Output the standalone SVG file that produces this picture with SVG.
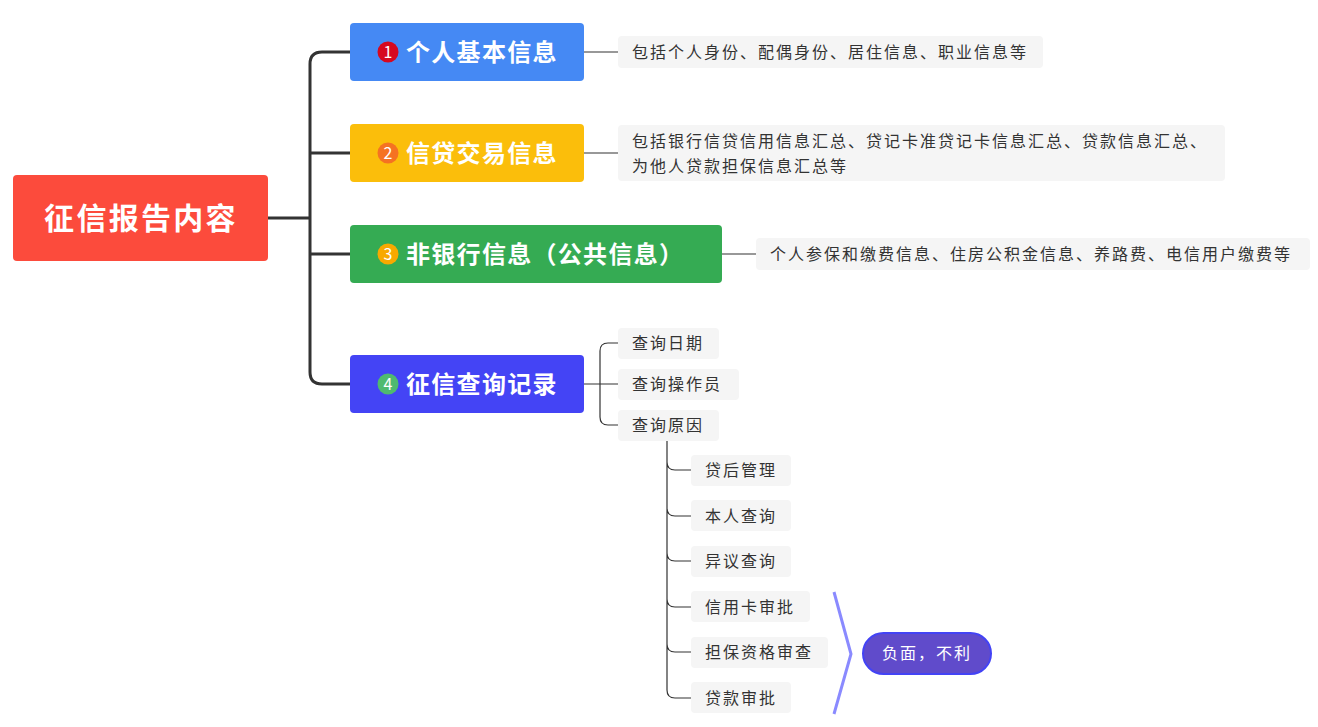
<svg xmlns="http://www.w3.org/2000/svg" width="1318" height="727" viewBox="0 0 1318 727">
<style>
.t{font-family:"Noto Sans CJK SC","Liberation Sans",sans-serif}
.main{font-size:24px;font-weight:bold;fill:#fff;letter-spacing:1.3px}
.num{font-size:16px;fill:#fff;text-anchor:middle}
.note{fill:#f5f5f5}
.nt{font-size:16px;fill:#333;letter-spacing:2px}
.c{fill:none;stroke:#333;stroke-width:1.2}
.ct{fill:none;stroke:#333;stroke-width:3}
</style>
<rect width="1318" height="727" fill="#fff"/>
<g id="connectors">
<path class="ct" d="M268 218H310"/>
<path class="ct" d="M350 52H322Q310 52 310 64V372Q310 384 322 384H350M310 153H350M310 254H350"/>
<path class="c" d="M584 52H618M584 153H618M722 254H756"/>
<path class="c" d="M584 384H618M618 343H608Q600 343 600 351V417Q600 425 608 425H618"/>
<path class="c" d="M667 441V690Q667 698 675 698H691M667 462Q667 470 675 470H691M667 508Q667 516 675 516H691M667 553Q667 561 675 561H691M667 599Q667 607 675 607H691M667 644Q667 652 675 652H691"/>
<polyline points="834,592 851,654 834,714" fill="none" stroke="#8a8aff" stroke-width="3"/>
</g>
<g id="root"><rect x="13" y="175" width="255" height="86" rx="4" fill="#fc4b3c"/><text class="t" x="141" y="229" font-size="30" font-weight="bold" fill="#fff" text-anchor="middle" letter-spacing="2.3">征信报告内容</text></g>
<g id="n1"><rect x="350" y="23" width="234" height="58" rx="4" fill="#4589f4"/><circle cx="388" cy="52" r="10.5" fill="#d6081f"/><text class="t num" x="388" y="58">1</text><text class="t main" x="406" y="61">个人基本信息</text></g>
<g id="n2"><rect x="350" y="124" width="234" height="58" rx="4" fill="#fbbe0b"/><circle cx="388" cy="153" r="10.5" fill="#f57222"/><text class="t num" x="388" y="159">2</text><text class="t main" x="406" y="162">信贷交易信息</text></g>
<g id="n3"><rect x="350" y="225" width="372" height="58" rx="4" fill="#35ab53"/><circle cx="388" cy="254" r="10.5" fill="#f8a900"/><text class="t num" x="388" y="260">3</text><text class="t main" x="406" y="263">非银行信息（公共信息）</text></g>
<g id="n4"><rect x="350" y="355" width="234" height="58" rx="4" fill="#4444f5"/><circle cx="388" cy="384" r="10.5" fill="#4fba6f"/><text class="t num" x="388" y="390">4</text><text class="t main" x="406" y="393">征信查询记录</text></g>
<g id="note1"><rect class="note" x="618" y="36" width="425" height="32" rx="4"/><text class="t nt" x="632" y="58">包括个人身份、配偶身份、居住信息、职业信息等</text></g>
<g id="note2"><rect class="note" x="618" y="125" width="607" height="56" rx="4"/><text class="t nt" x="632" y="147">包括银行信贷信用信息汇总、贷记卡准贷记卡信息汇总、贷款信息汇总、</text><text class="t nt" x="632" y="172">为他人贷款担保信息汇总等</text></g>
<g id="note3"><rect class="note" x="756" y="238" width="554" height="32" rx="4"/><text class="t nt" x="770" y="260">个人参保和缴费信息、住房公积金信息、养路费、电信用户缴费等</text></g>
<g id="q1"><rect class="note" x="618" y="328" width="101" height="31" rx="4"/><text class="t nt" x="632" y="349">查询日期</text></g>
<g id="q2"><rect class="note" x="618" y="369" width="121" height="31" rx="4"/><text class="t nt" x="632" y="390">查询操作员</text></g>
<g id="q3"><rect class="note" x="618" y="410" width="101" height="31" rx="4"/><text class="t nt" x="632" y="431">查询原因</text></g>
<g id="r1"><rect class="note" x="691" y="455" width="100" height="31" rx="4"/><text class="t nt" x="705" y="476">贷后管理</text></g>
<g id="r2"><rect class="note" x="691" y="500" width="100" height="31" rx="4"/><text class="t nt" x="705" y="522">本人查询</text></g>
<g id="r3"><rect class="note" x="691" y="546" width="100" height="31" rx="4"/><text class="t nt" x="705" y="567">异议查询</text></g>
<g id="r4"><rect class="note" x="691" y="591" width="119" height="31" rx="4"/><text class="t nt" x="705" y="613">信用卡审批</text></g>
<g id="r5"><rect class="note" x="691" y="637" width="137" height="31" rx="4"/><text class="t nt" x="705" y="658">担保资格审查</text></g>
<g id="r6"><rect class="note" x="691" y="682" width="100" height="31" rx="4"/><text class="t nt" x="705" y="704">贷款审批</text></g>
<g id="summary"><rect x="863" y="633" width="128" height="41" rx="20.5" fill="#604bcb" stroke="#4343f5" stroke-width="2"/><text class="t" x="927" y="659" font-size="16" fill="#fff" text-anchor="middle" letter-spacing="2">负面，不利</text></g>
</svg>
